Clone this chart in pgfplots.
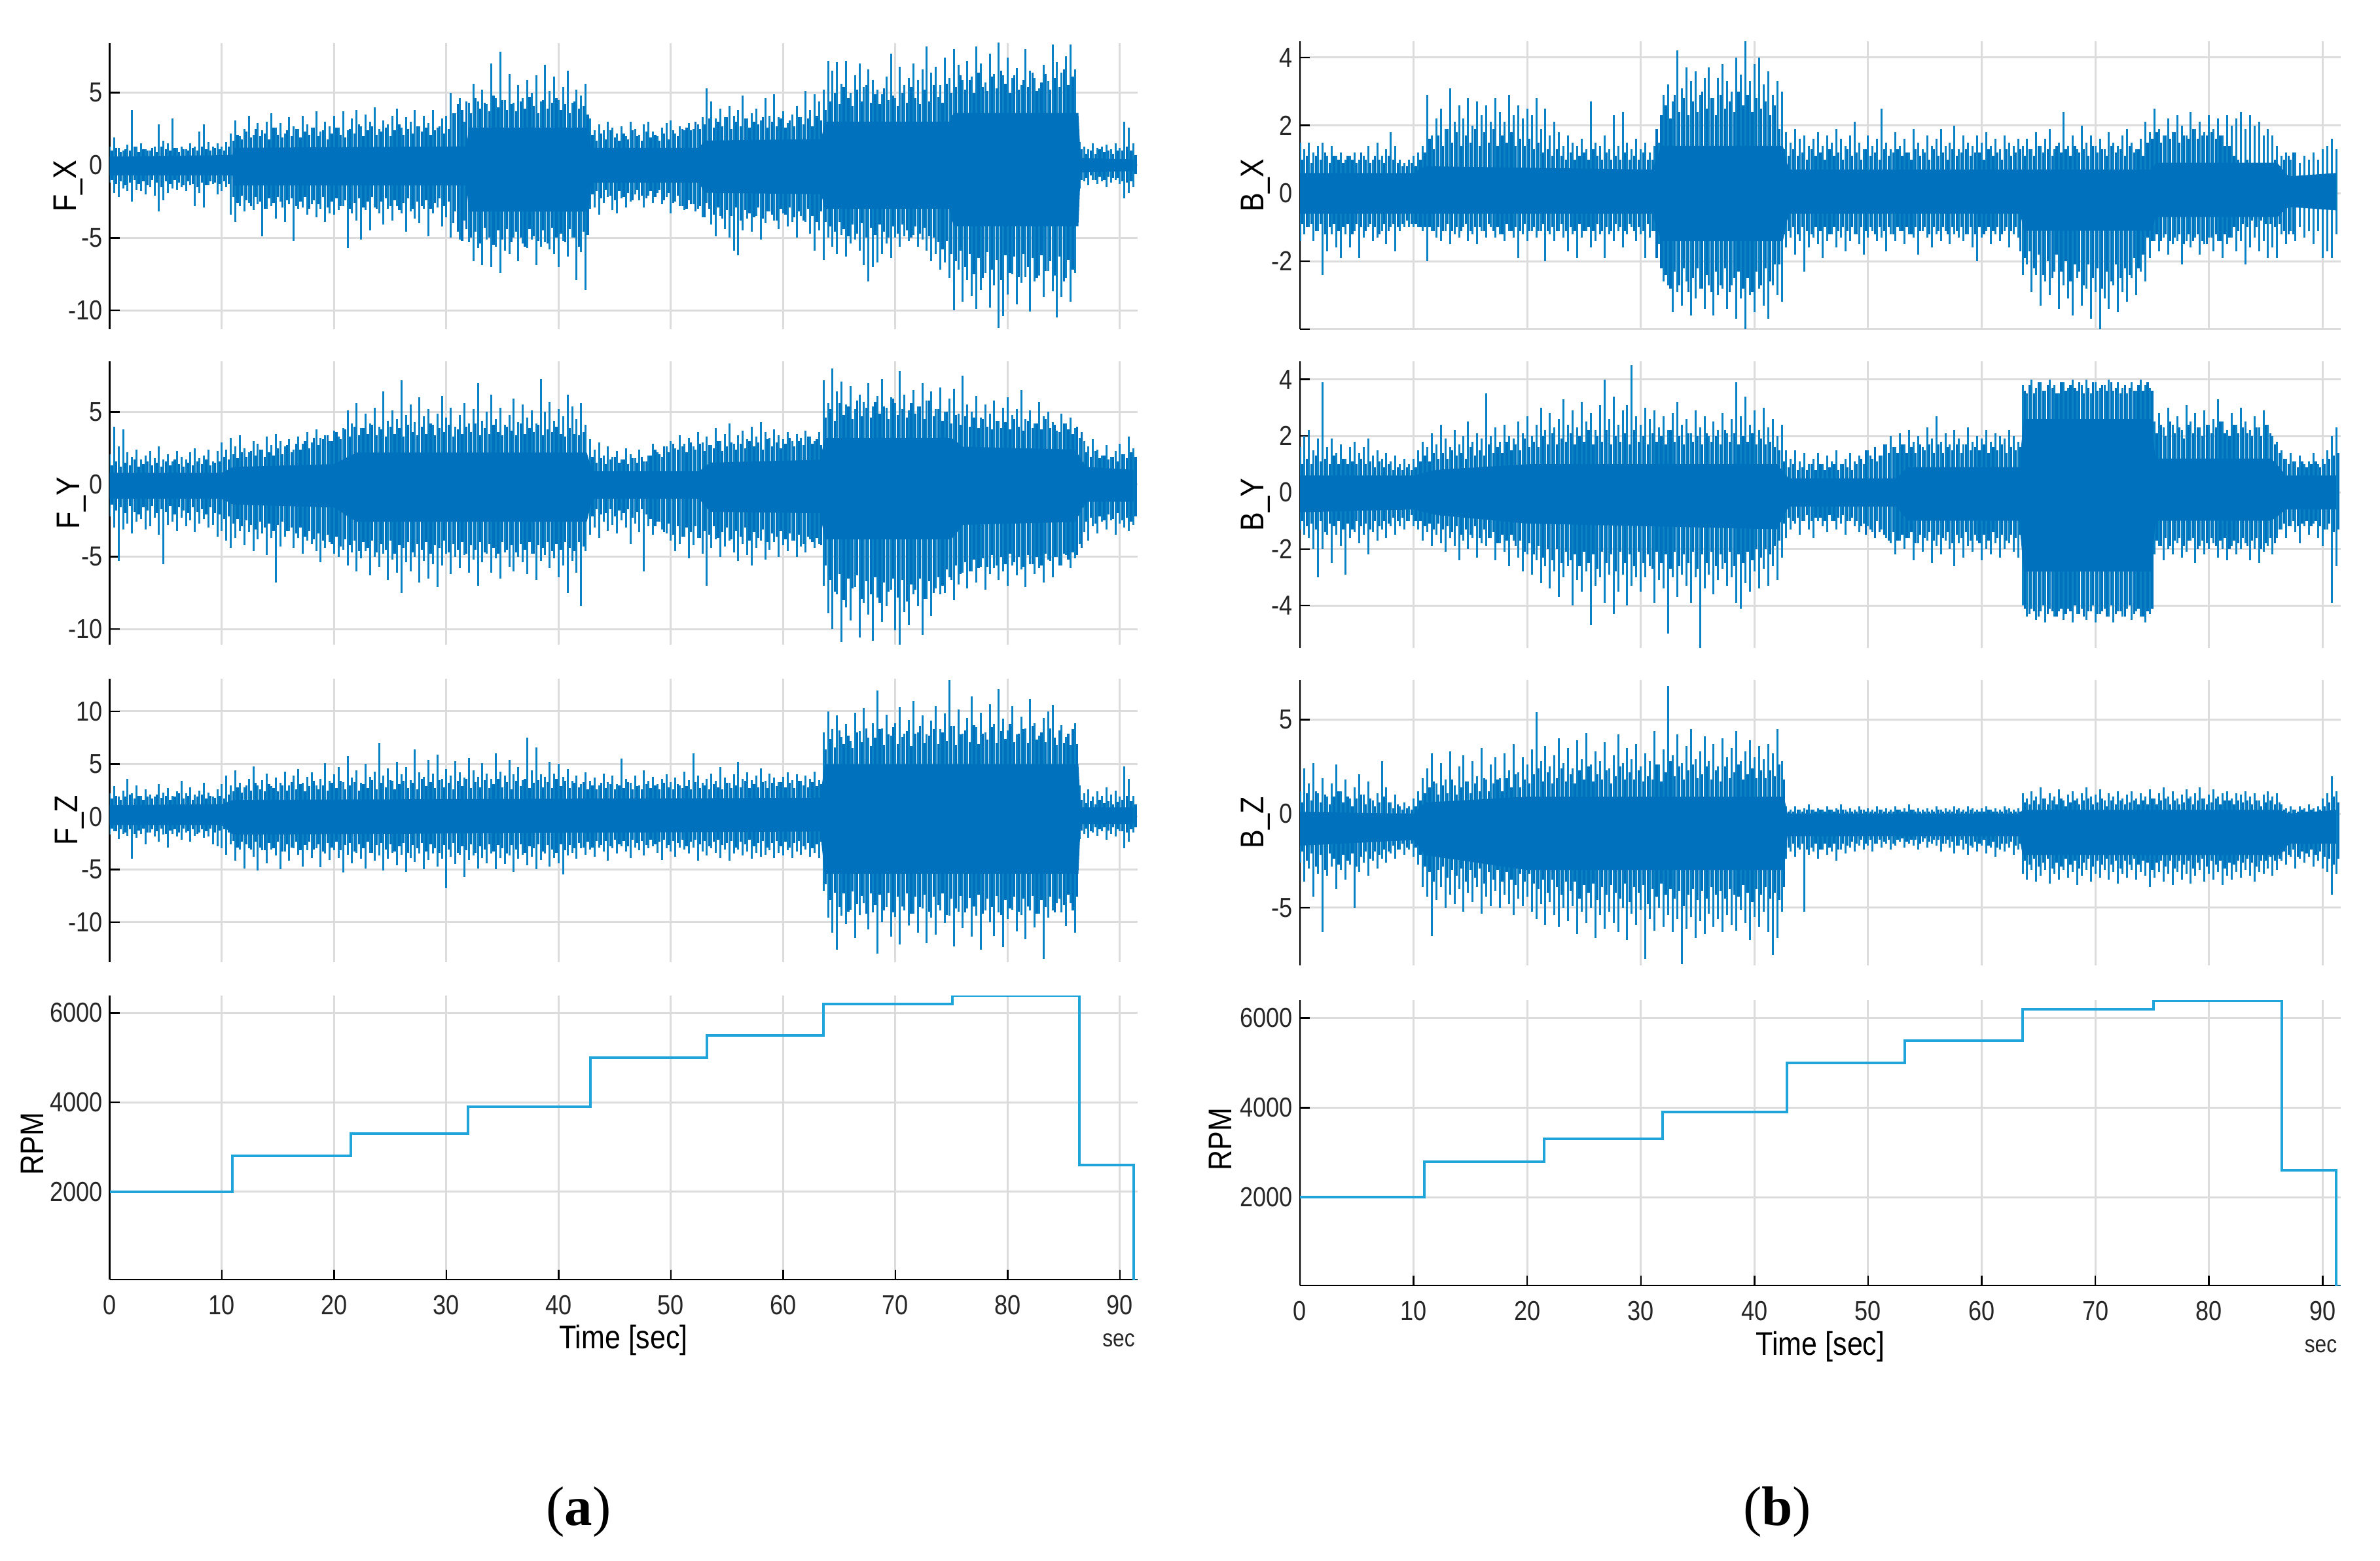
\documentclass[border=0pt]{standalone}
\usepackage{pgfplots}
\usepackage{pgfplotstable}
\usepackage{fontspec}
\setmainfont[FakeStretch=0.86]{Liberation Sans}
\newfontfamily\capfont{Liberation Serif}
\pgfplotsset{compat=1.18}
\definecolor{core}{HTML}{0072BD}
\definecolor{spk}{HTML}{0A82C4}
\definecolor{rpm}{HTML}{1FA5DA}
\definecolor{grd}{HTML}{DCDCDC}
\definecolor{txt}{HTML}{262626}
\pgfplotstableread[header=false,row sep=\\]{
1.3 -1.2\\ 1.9 -1.9\\ 1.2 -2.2\\ 1.0 -1.6\\ 1.4 -1.8\\ 3.8 -2.5\\ 1.3 -1.7\\ 1.5 -1.8\\ 1.1 -2.0\\ 1.0 -1.5\\
1.3 -2.1\\ 2.8 -3.2\\ 1.7 -2.4\\ 1.5 -1.9\\ 3.2 -1.6\\ 1.2 -1.7\\ 1.3 -1.5\\ 1.1 -1.8\\ 1.5 -1.4\\ 1.3 -2.8\\
2.3 -1.9\\ 2.8 -2.9\\ 1.6 -1.4\\ 1.3 -1.3\\ 1.5 -2.0\\ 1.3 -1.8\\ 1.6 -1.5\\ 2.2 -3.4\\ 3.1 -3.9\\ 2.0 -2.8\\
2.5 -3.2\\ 3.4 -2.6\\ 2.1 -3.1\\ 2.9 -2.7\\ 2.4 -4.9\\ 3.0 -3.0\\ 3.6 -2.8\\ 2.6 -3.7\\ 2.9 -2.5\\ 2.2 -3.9\\
3.3 -2.7\\ 2.7 -5.2\\ 2.5 -3.0\\ 3.4 -2.9\\ 2.8 -3.4\\ 2.6 -2.7\\ 3.7 -3.6\\ 2.3 -3.0\\ 3.0 -3.9\\ 2.7 -3.3\\
3.4 -3.4\\ 2.6 -3.1\\ 3.7 -2.8\\ 2.4 -5.7\\ 3.2 -3.3\\ 3.8 -3.8\\ 2.7 -5.1\\ 3.5 -3.1\\ 3.0 -4.5\\ 4.0 -2.9\\
2.5 -3.3\\ 3.1 -4.1\\ 2.8 -3.0\\ 3.4 -3.8\\ 3.9 -2.8\\ 2.6 -3.3\\ 3.3 -4.6\\ 3.0 -3.2\\ 3.8 -3.7\\ 2.7 -4.0\\
3.4 -3.0\\ 2.9 -4.9\\ 3.8 -3.3\\ 2.6 -2.9\\ 3.2 -4.2\\ 3.4 -3.6\\ 5.0 -5.0\\ 3.6 -3.2\\ 4.6 -5.1\\ 3.0 -3.8\\
4.3 -5.3\\ 5.6 -6.6\\ 4.4 -5.7\\ 5.2 -6.9\\ 4.2 -5.1\\ 7.0 -7.0\\ 4.6 -5.6\\ 7.8 -7.4\\ 4.5 -5.9\\ 6.3 -6.1\\
4.3 -5.0\\ 5.5 -6.6\\ 4.6 -5.4\\ 5.9 -5.7\\ 5.0 -5.1\\ 6.2 -6.9\\ 4.4 -5.6\\ 6.9 -5.3\\ 5.1 -5.8\\ 6.1 -6.1\\
4.5 -7.0\\ 5.4 -5.2\\ 6.5 -6.3\\ 4.3 -5.0\\ 5.2 -7.9\\ 4.8 -6.0\\ 5.6 -8.6\\ 3.2 -3.0\\ 2.4 -2.9\\ 2.8 -3.4\\
2.4 -2.6\\ 3.0 -2.2\\ 2.6 -3.1\\ 2.2 -3.3\\ 2.7 -2.3\\ 2.0 -2.9\\ 3.0 -2.5\\ 2.5 -2.0\\ 2.1 -2.4\\ 2.8 -2.9\\
3.0 -2.1\\ 2.3 -2.6\\ 2.0 -1.9\\ 2.6 -2.7\\ 2.9 -2.2\\ 3.1 -3.3\\ 2.2 -2.5\\ 2.7 -2.8\\ 2.4 -3.1\\ 2.9 -2.4\\
2.5 -2.7\\ 2.8 -3.0\\ 3.3 -3.6\\ 5.3 -2.6\\ 4.4 -4.1\\ 3.2 -4.9\\ 3.9 -3.5\\ 3.3 -4.4\\ 4.1 -5.0\\ 3.4 -5.9\\
3.8 -6.2\\ 4.8 -4.5\\ 3.2 -3.7\\ 3.6 -4.6\\ 3.9 -3.5\\ 3.1 -5.1\\ 4.6 -4.0\\ 3.4 -3.2\\ 4.9 -3.8\\ 3.3 -4.4\\
3.7 -3.3\\ 2.9 -4.2\\ 3.5 -3.9\\ 4.1 -5.0\\ 3.3 -3.5\\ 5.1 -3.9\\ 3.8 -4.7\\ 4.9 -5.9\\ 4.4 -4.5\\ 5.2 -6.5\\
7.2 -5.0\\ 6.5 -5.6\\ 7.1 -6.1\\ 5.6 -4.8\\ 7.2 -6.3\\ 5.0 -5.4\\ 6.2 -5.1\\ 7.0 -5.9\\ 5.4 -6.9\\ 6.6 -8.0\\
5.9 -7.0\\ 5.2 -6.7\\ 4.9 -6.1\\ 6.1 -5.4\\ 7.7 -6.4\\ 4.6 -5.0\\ 6.8 -5.6\\ 5.5 -4.9\\ 6.0 -5.2\\ 7.0 -4.8\\
5.9 -5.6\\ 6.6 -5.1\\ 8.2 -5.9\\ 6.4 -6.6\\ 6.8 -6.1\\ 5.5 -7.2\\ 7.4 -6.7\\ 6.0 -7.8\\ 8.0 -10.0\\ 6.9 -7.2\\
5.9 -9.4\\ 7.2 -7.9\\ 6.1 -9.0\\ 8.2 -9.9\\ 7.0 -8.6\\ 5.7 -7.4\\ 7.7 -9.8\\ 6.3 -8.3\\ 8.5 -11.2\\ 6.2 -10.4\\
7.4 -8.9\\ 6.0 -7.5\\ 6.7 -9.6\\ 5.5 -8.1\\ 8.0 -7.7\\ 6.5 -10.1\\ 6.0 -8.0\\ 5.3 -7.6\\ 6.9 -9.1\\ 5.8 -7.3\\
8.3 -8.7\\ 7.1 -10.5\\ 6.4 -9.1\\ 7.5 -7.8\\ 8.3 -9.4\\ 6.6 -7.4\\ 1.6 -1.6\\ 1.3 -1.1\\ 1.1 -1.4\\ 1.5 -1.0\\
1.2 -1.3\\ 1.3 -1.1\\ 1.4 -1.5\\ 1.1 -1.2\\ 1.5 -1.0\\ 1.2 -1.3\\ 3.0 -2.3\\ 2.6 -1.9\\ 1.5 -1.5\\
}\tFX
\pgfplotstableread[header=false,row sep=\\]{
1.0 -1.0\\ 1.2 -1.3\\ 0.9 -1.1\\ 1.1 -1.4\\ 1.0 -1.2\\ 1.3 -1.0\\ 0.9 -1.3\\ 1.1 -1.1\\ 1.0 -1.4\\ 1.2 -1.0\\
0.9 -1.2\\ 1.3 -1.5\\ 1.1 -1.1\\ 1.0 -1.3\\ 1.2 -1.0\\ 0.9 -1.2\\ 1.1 -1.4\\ 1.0 -1.1\\ 1.2 -1.3\\ 1.0 -1.5\\
1.3 -1.2\\ 1.1 -1.4\\ 1.0 -1.1\\ 1.2 -1.2\\ 1.1 -1.3\\ 1.0 -1.1\\ 1.3 -1.3\\ 1.7 -2.2\\ 2.1 -2.6\\ 1.8 -2.1\\
2.3 -2.4\\ 1.9 -2.8\\ 2.5 -2.2\\ 2.0 -2.5\\ 2.2 -3.0\\ 1.8 -2.3\\ 2.6 -2.6\\ 2.1 -2.2\\ 1.9 -2.9\\ 2.4 -2.4\\
2.0 -2.3\\ 2.5 -2.8\\ 1.9 -2.5\\ 2.3 -2.2\\ 2.1 -3.0\\ 2.6 -2.4\\ 2.0 -2.7\\ 2.4 -2.2\\ 1.8 -2.9\\ 2.2 -2.5\\
2.6 -2.3\\ 2.1 -2.8\\ 1.9 -2.4\\ 2.5 -3.0\\ 2.2 -2.6\\ 2.8 -2.3\\ 2.0 -2.9\\ 2.4 -2.5\\ 2.7 -2.2\\ 2.1 -3.0\\
2.3 -2.5\\ 2.6 -2.3\\ 2.0 -2.8\\ 2.4 -2.4\\ 2.8 -3.1\\ 2.1 -2.6\\ 2.5 -2.3\\ 2.2 -3.0\\ 2.7 -2.5\\ 2.3 -2.8\\
2.6 -2.4\\ 2.1 -3.0\\ 2.4 -2.6\\ 2.7 -2.3\\ 2.2 -2.8\\ 2.5 -2.5\\ 3.6 -4.0\\ 4.2 -4.6\\ 3.8 -5.2\\ 4.4 -4.4\\
3.6 -5.0\\ 4.6 -4.6\\ 3.9 -5.4\\ 4.3 -4.3\\ 3.7 -5.0\\ 4.8 -5.5\\ 4.0 -4.5\\ 4.5 -5.1\\ 3.8 -4.4\\ 4.2 -5.3\\
3.7 -4.6\\ 4.4 -5.0\\ 3.9 -5.6\\ 4.7 -4.4\\ 4.1 -4.9\\ 3.6 -5.2\\ 4.5 -4.5\\ 3.9 -5.4\\ 4.3 -4.3\\ 4.6 -5.0\\
3.8 -4.7\\ 4.2 -5.3\\ 3.6 -4.4\\ 4.4 -5.0\\ 3.9 -5.6\\ 4.1 -4.6\\ 3.5 -4.8\\ 2.1 -2.0\\ 1.7 -1.8\\ 2.2 -2.3\\
1.8 -1.7\\ 2.4 -2.1\\ 1.9 -2.4\\ 1.7 -1.8\\ 2.2 -2.2\\ 1.8 -1.9\\ 2.4 -2.4\\ 2.0 -1.7\\ 1.7 -2.1\\ 2.3 -2.3\\
1.9 -1.8\\ 2.1 -2.2\\ 1.7 -1.7\\ 2.2 -2.4\\ 1.8 -1.9\\ 2.4 -2.6\\ 2.0 -2.1\\ 2.5 -2.8\\ 2.6 -3.0\\ 2.4 -2.7\\
3.0 -3.2\\ 2.5 -2.8\\ 2.8 -3.6\\ 3.2 -3.0\\ 2.6 -3.4\\ 3.0 -2.9\\ 2.7 -3.7\\ 3.3 -3.1\\ 2.5 -3.5\\ 3.0 -2.9\\
2.7 -3.8\\ 3.2 -3.1\\ 2.6 -3.3\\ 3.0 -3.6\\ 2.8 -2.9\\ 3.3 -3.7\\ 2.6 -3.2\\ 3.0 -3.4\\ 2.7 -3.8\\ 3.2 -3.0\\
2.6 -3.4\\ 3.1 -2.9\\ 2.7 -3.6\\ 3.3 -3.2\\ 2.8 -3.8\\ 3.2 -3.0\\ 2.7 -3.5\\ 3.4 -3.9\\ 3.1 -3.2\\ 3.8 -3.9\\
4.4 -4.2\\ 5.0 -4.6\\ 4.2 -3.9\\ 5.4 -4.4\\ 4.6 -4.9\\ 4.1 -4.1\\ 5.2 -4.7\\ 4.4 -4.0\\ 5.5 -5.0\\ 4.3 -4.3\\
4.9 -4.8\\ 4.2 -4.1\\ 5.3 -4.6\\ 4.5 -5.0\\ 4.8 -4.2\\ 4.1 -4.7\\ 5.0 -4.1\\ 4.3 -4.5\\ 5.4 -5.0\\ 4.6 -4.2\\
4.2 -4.7\\ 5.2 -4.3\\ 4.4 -4.9\\ 5.5 -5.0\\ 4.7 -5.3\\ 4.3 -5.8\\ 5.6 -5.2\\ 5.0 -6.1\\ 5.4 -6.6\\ 6.2 -5.9\\
5.2 -7.0\\ 5.9 -6.1\\ 5.0 -7.5\\ 6.4 -6.4\\ 5.4 -7.8\\ 5.1 -6.0\\ 6.1 -7.2\\ 5.3 -6.5\\ 6.5 -7.9\\ 5.6 -6.2\\
5.0 -7.4\\ 6.2 -6.3\\ 5.2 -7.7\\ 5.9 -6.1\\ 5.4 -7.0\\ 6.4 -6.4\\ 5.1 -7.8\\ 5.7 -6.2\\ 6.3 -7.3\\ 5.2 -6.6\\
6.0 -7.6\\ 5.4 -6.3\\ 6.6 -8.0\\ 5.5 -6.5\\ 6.1 -7.2\\ 0.9 -0.8\\ 1.1 -1.0\\ 0.8 -0.9\\ 1.0 -0.7\\ 0.8 -1.0\\
1.1 -0.8\\ 0.9 -1.0\\ 1.0 -0.8\\ 0.8 -0.9\\ 1.0 -0.9\\ 1.0 -1.1\\ 1.3 -1.2\\ 1.0 -1.1\\ 0.7 -0.6\\
}\mFX
\pgfplotstableread[header=false,row sep=\\]{
2.1 -2.2\\ 4.0 -3.0\\ 2.6 -5.3\\ 3.8 -3.1\\ 2.2 -2.7\\ 1.9 -3.4\\ 2.4 -2.6\\ 1.7 -2.4\\ 2.0 -3.1\\ 2.3 -2.9\\
1.8 -2.3\\ 2.6 -3.5\\ 1.7 -5.5\\ 2.1 -2.8\\ 1.6 -2.6\\ 2.3 -3.2\\ 1.9 -2.3\\ 1.7 -2.9\\ 2.2 -2.5\\ 2.5 -3.3\\
1.8 -2.7\\ 2.0 -2.4\\ 2.4 -3.0\\ 1.6 -2.8\\ 2.3 -3.6\\ 2.9 -3.2\\ 2.4 -3.9\\ 3.2 -4.4\\ 2.6 -3.7\\ 3.4 -3.2\\
2.5 -4.2\\ 2.2 -3.3\\ 3.0 -4.6\\ 2.8 -3.8\\ 2.4 -3.4\\ 3.3 -4.9\\ 2.7 -3.7\\ 3.5 -6.8\\ 3.0 -4.3\\ 2.6 -3.6\\
3.1 -3.2\\ 2.4 -4.4\\ 3.3 -3.7\\ 2.8 -4.8\\ 3.6 -3.9\\ 2.9 -4.1\\ 3.8 -4.6\\ 3.2 -5.4\\ 3.4 -4.4\\ 3.0 -4.0\\
3.7 -4.8\\ 3.3 -5.0\\ 3.9 -4.5\\ 5.1 -5.6\\ 4.2 -4.7\\ 5.6 -6.0\\ 3.9 -5.1\\ 4.9 -4.6\\ 4.2 -6.3\\ 5.3 -5.0\\
4.0 -5.7\\ 6.4 -4.8\\ 4.4 -6.6\\ 5.1 -5.2\\ 4.5 -6.1\\ 7.2 -7.5\\ 4.8 -5.4\\ 5.5 -6.0\\ 4.3 -5.0\\ 6.0 -6.8\\
4.7 -5.3\\ 5.2 -6.5\\ 4.1 -5.5\\ 4.9 -7.1\\ 6.1 -5.6\\ 4.6 -4.8\\ 5.3 -6.2\\ 4.0 -5.0\\ 4.8 -5.8\\ 5.6 -4.9\\
4.2 -6.1\\ 5.2 -5.2\\ 7.0 -7.0\\ 4.4 -5.4\\ 5.0 -4.8\\ 6.2 -6.1\\ 4.5 -5.1\\ 5.3 -6.5\\ 4.1 -4.7\\ 4.8 -5.7\\
5.9 -6.0\\ 4.3 -5.0\\ 5.5 -5.4\\ 4.6 -6.2\\ 5.1 -4.8\\ 4.2 -6.6\\ 7.3 -5.3\\ 5.0 -4.9\\ 5.7 -5.8\\ 4.4 -5.1\\
5.2 -6.4\\ 4.7 -5.6\\ 6.2 -7.5\\ 5.4 -5.3\\ 4.5 -6.1\\ 5.6 -8.4\\ 4.1 -4.6\\ 3.1 -3.5\\ 2.4 -3.0\\ 2.9 -3.7\\
2.0 -2.6\\ 2.6 -3.2\\ 1.9 -2.8\\ 2.3 -3.4\\ 1.7 -2.5\\ 2.5 -3.0\\ 2.1 -4.1\\ 1.8 -2.7\\ 2.4 -3.3\\ 1.6 -6.0\\
2.0 -2.9\\ 2.8 -3.5\\ 2.2 -2.6\\ 1.9 -3.1\\ 2.6 -3.4\\ 3.0 -3.9\\ 2.5 -4.6\\ 3.4 -4.1\\ 2.8 -3.6\\ 3.2 -5.1\\
2.6 -4.2\\ 3.6 -3.7\\ 2.9 -4.8\\ 3.3 -7.0\\ 2.7 -4.4\\ 3.9 -3.8\\ 3.0 -5.0\\ 3.5 -4.3\\ 4.2 -3.9\\ 2.8 -4.7\\
3.4 -5.3\\ 3.7 -4.1\\ 3.1 -4.9\\ 4.0 -5.6\\ 3.3 -4.4\\ 4.3 -3.9\\ 3.6 -5.2\\ 3.2 -4.5\\ 3.8 -4.0\\ 3.4 -5.0\\
3.1 -4.2\\ 3.6 -4.6\\ 3.0 -3.9\\ 3.5 -5.0\\ 3.2 -4.3\\ 3.7 -4.7\\ 3.3 -3.8\\ 3.0 -4.4\\ 3.6 -4.1\\ 7.2 -7.0\\
5.6 -8.9\\ 8.0 -10.0\\ 6.4 -7.6\\ 7.1 -10.9\\ 5.5 -8.5\\ 6.8 -9.4\\ 5.2 -7.1\\ 6.2 -10.6\\ 5.7 -8.2\\ 7.0 -9.0\\
5.4 -10.8\\ 6.1 -7.8\\ 7.3 -9.5\\ 5.3 -8.4\\ 6.0 -7.3\\ 5.6 -10.1\\ 7.8 -11.1\\ 6.2 -8.8\\ 5.1 -9.7\\ 6.5 -7.6\\
5.4 -8.4\\ 7.0 -10.4\\ 5.8 -7.9\\ 6.4 -9.1\\ 5.2 -7.2\\ 6.7 -7.6\\ 5.0 -7.5\\ 5.9 -6.4\\ 6.6 -8.0\\ 4.9 -6.9\\
7.5 -6.1\\ 5.5 -7.2\\ 5.0 -6.0\\ 6.1 -6.8\\ 4.6 -5.7\\ 5.5 -7.3\\ 4.9 -6.2\\ 5.8 -5.8\\ 4.4 -6.6\\ 5.3 -6.0\\
6.0 -7.0\\ 4.8 -5.6\\ 5.2 -6.3\\ 6.5 -5.9\\ 4.5 -7.1\\ 5.1 -5.5\\ 4.2 -6.2\\ 5.7 -5.8\\ 4.7 -6.8\\ 5.0 -5.2\\
4.3 -6.4\\ 3.7 -5.0\\ 4.9 -5.6\\ 4.2 -4.9\\ 4.6 -5.8\\ 3.9 -5.1\\ 3.2 -4.1\\ 3.0 -3.3\\ 2.6 -3.9\\ 3.1 -2.9\\
2.4 -3.4\\ 2.0 -2.6\\ 2.7 -3.1\\ 1.9 -2.5\\ 2.3 -3.5\\ 2.8 -2.7\\ 2.1 -3.0\\ 3.3 -3.2\\ 2.5 -2.8\\
}\tFY
\pgfplotstableread[header=false,row sep=\\]{
1.3 -1.4\\ 1.6 -1.8\\ 1.2 -1.6\\ 1.5 -2.0\\ 1.3 -1.5\\ 1.7 -1.9\\ 1.2 -2.1\\ 1.4 -1.6\\ 1.6 -1.8\\ 1.3 -1.5\\
1.5 -2.0\\ 1.2 -1.7\\ 1.6 -1.9\\ 1.3 -1.5\\ 1.7 -2.1\\ 1.4 -1.6\\ 1.2 -1.8\\ 1.5 -2.0\\ 1.3 -1.6\\ 1.6 -1.9\\
1.4 -1.7\\ 1.7 -2.1\\ 1.3 -1.6\\ 1.5 -2.0\\ 1.6 -2.1\\ 1.9 -2.4\\ 1.7 -2.2\\ 2.1 -2.7\\ 1.8 -2.4\\ 2.2 -2.9\\
1.9 -2.5\\ 2.3 -2.8\\ 2.0 -3.1\\ 2.4 -2.6\\ 1.9 -3.0\\ 2.2 -2.7\\ 2.0 -3.2\\ 2.5 -2.8\\ 2.1 -2.6\\ 2.7 -3.2\\
2.2 -3.0\\ 2.8 -3.4\\ 2.4 -3.0\\ 3.0 -3.6\\ 2.5 -3.2\\ 3.2 -3.8\\ 2.7 -3.4\\ 3.1 -3.9\\ 3.4 -3.5\\ 3.0 -4.1\\
3.6 -3.6\\ 3.1 -4.3\\ 3.8 -3.8\\ 3.3 -4.2\\ 4.0 -3.9\\ 3.4 -4.6\\ 3.9 -4.0\\ 3.5 -4.4\\ 4.1 -3.9\\ 3.4 -4.7\\
3.8 -4.1\\ 3.3 -4.5\\ 4.0 -3.9\\ 3.5 -4.8\\ 3.9 -4.2\\ 3.3 -4.4\\ 4.1 -4.0\\ 3.6 -4.7\\ 3.4 -4.1\\ 4.0 -4.5\\
3.5 -4.0\\ 4.2 -4.8\\ 3.4 -4.2\\ 3.9 -4.4\\ 3.6 -3.9\\ 4.1 -4.7\\ 3.3 -4.1\\ 3.8 -4.5\\ 3.5 -4.0\\ 4.0 -4.8\\
3.6 -4.2\\ 4.2 -4.5\\ 3.4 -4.0\\ 3.9 -4.7\\ 3.5 -4.1\\ 4.1 -4.4\\ 3.6 -4.8\\ 3.4 -4.0\\ 4.0 -4.5\\ 3.7 -4.2\\
3.4 -4.7\\ 4.2 -4.1\\ 3.5 -4.5\\ 3.9 -4.0\\ 3.6 -4.8\\ 4.1 -4.2\\ 3.4 -4.4\\ 3.8 -4.0\\ 3.6 -4.6\\ 4.0 -4.1\\
3.5 -4.5\\ 3.3 -4.0\\ 3.9 -4.4\\ 3.5 -4.6\\ 3.4 -4.0\\ 3.6 -4.3\\ 1.6 -1.9\\ 1.9 -2.2\\ 1.5 -1.7\\ 1.8 -2.1\\
1.4 -2.0\\ 1.7 -1.7\\ 1.9 -2.2\\ 1.5 -1.8\\ 1.7 -2.0\\ 1.4 -1.7\\ 1.8 -2.3\\ 1.5 -1.9\\ 1.9 -1.7\\ 1.6 -2.1\\
2.0 -2.4\\ 2.4 -2.9\\ 2.1 -2.6\\ 2.6 -3.3\\ 2.2 -2.7\\ 2.8 -3.5\\ 2.4 -2.9\\ 2.6 -3.6\\ 2.2 -3.0\\ 2.9 -3.3\\
2.4 -2.9\\ 2.8 -3.7\\ 2.3 -3.2\\ 2.7 -3.5\\ 2.5 -2.9\\ 3.0 -3.7\\ 2.3 -3.3\\ 2.6 -3.0\\ 2.9 -3.8\\ 2.4 -3.2\\
2.8 -3.6\\ 2.5 -3.0\\ 3.0 -3.9\\ 2.6 -3.3\\ 2.9 -3.7\\ 2.4 -3.1\\ 3.1 -4.0\\ 2.6 -3.4\\ 2.9 -3.6\\ 2.5 -3.2\\
2.8 -3.8\\ 3.2 -3.4\\ 2.6 -3.9\\ 3.0 -3.5\\ 2.7 -4.1\\ 3.3 -3.6\\ 2.8 -4.0\\ 3.1 -3.7\\ 2.7 -4.2\\ 4.6 -5.6\\
5.2 -6.6\\ 4.4 -7.4\\ 5.6 -6.2\\ 4.8 -8.0\\ 5.4 -6.5\\ 4.5 -7.2\\ 5.8 -6.3\\ 4.7 -7.9\\ 5.3 -6.7\\ 4.6 -7.6\\
5.7 -6.4\\ 4.9 -8.2\\ 5.4 -6.8\\ 4.5 -7.4\\ 5.9 -6.5\\ 4.8 -7.8\\ 5.2 -6.6\\ 4.6 -8.1\\ 5.6 -6.9\\ 4.9 -7.3\\
5.4 -6.5\\ 4.5 -7.9\\ 5.8 -6.7\\ 4.7 -7.5\\ 5.2 -6.4\\ 4.4 -7.0\\ 5.0 -5.9\\ 4.2 -6.6\\ 4.8 -5.6\\ 4.1 -6.2\\
4.7 -5.4\\ 4.0 -6.0\\ 4.6 -5.2\\ 3.9 -5.8\\ 4.5 -5.1\\ 4.0 -5.7\\ 3.8 -4.9\\ 4.4 -5.6\\ 3.9 -5.0\\ 4.3 -5.5\\
3.8 -4.8\\ 4.5 -5.4\\ 4.0 -5.0\\ 3.7 -5.7\\ 4.4 -4.9\\ 3.9 -5.5\\ 4.2 -5.0\\ 3.8 -5.6\\ 4.5 -4.8\\ 3.9 -5.3\\
4.1 -5.0\\ 3.6 -5.6\\ 4.2 -4.8\\ 3.8 -5.2\\ 3.5 -4.7\\ 4.0 -4.9\\ 3.6 -4.4\\ 2.2 -2.6\\ 1.9 -2.3\\ 2.3 -2.7\\
1.8 -2.2\\ 2.0 -2.5\\ 1.7 -2.1\\ 1.9 -2.4\\ 1.6 -2.0\\ 2.1 -2.5\\ 1.8 -2.3\\ 2.2 -2.6\\ 1.9 -2.2\\
}\mFY
\pgfplotstableread[header=false,row sep=\\]{
2.2 -1.7\\ 2.9 -1.4\\ 1.9 -2.1\\ 2.5 -1.6\\ 3.6 -1.8\\ 2.2 -4.0\\ 3.0 -2.0\\ 2.0 -1.6\\ 2.6 -2.6\\ 2.1 -1.5\\
1.9 -1.9\\ 3.1 -2.4\\ 2.3 -1.7\\ 2.7 -2.9\\ 2.0 -1.6\\ 2.4 -1.9\\ 3.4 -2.2\\ 2.2 -1.5\\ 2.8 -2.4\\ 2.1 -1.8\\
2.5 -1.5\\ 3.2 -2.0\\ 2.3 -1.9\\ 1.9 -2.6\\ 2.6 -2.8\\ 3.1 -3.0\\ 3.9 -3.6\\ 3.0 -2.6\\ 4.4 -4.2\\ 3.2 -3.1\\
2.8 -4.9\\ 3.6 -3.0\\ 4.8 -3.8\\ 3.0 -5.1\\ 3.5 -3.2\\ 4.1 -4.4\\ 2.9 -3.1\\ 3.7 -3.7\\ 3.2 -5.0\\ 4.3 -3.3\\
3.0 -4.2\\ 3.9 -3.0\\ 4.5 -3.6\\ 3.2 -4.7\\ 3.8 -3.2\\ 4.2 -3.9\\ 3.0 -3.0\\ 3.6 -4.8\\ 5.1 -3.5\\ 3.4 -4.1\\
4.0 -3.2\\ 4.7 -3.9\\ 3.3 -5.3\\ 5.8 -3.6\\ 3.7 -4.4\\ 4.4 -3.4\\ 3.2 -4.0\\ 5.0 -4.9\\ 3.8 -3.4\\ 4.3 -4.2\\
7.0 -3.7\\ 3.9 -5.1\\ 4.6 -4.0\\ 3.4 -3.4\\ 5.2 -4.6\\ 4.0 -3.6\\ 4.7 -5.2\\ 3.5 -3.9\\ 6.4 -4.3\\ 4.2 -3.5\\
3.8 -5.0\\ 5.4 -4.1\\ 4.1 -3.5\\ 5.9 -4.7\\ 3.6 -4.0\\ 4.5 -6.8\\ 3.9 -3.8\\ 5.3 -4.5\\ 4.2 -3.6\\ 3.7 -5.7\\
5.6 -4.1\\ 4.4 -3.7\\ 3.8 -4.9\\ 5.1 -3.9\\ 4.1 -4.4\\ 3.6 -3.5\\ 6.0 -5.0\\ 4.3 -3.9\\ 3.9 -4.5\\ 5.4 -3.7\\
4.0 -5.2\\ 4.7 -4.0\\ 3.5 -3.6\\ 7.5 -4.6\\ 4.4 -3.8\\ 6.6 -5.0\\ 4.0 -4.1\\ 3.8 -3.5\\ 5.2 -4.7\\ 4.1 -3.9\\
5.0 -4.4\\ 3.8 -5.5\\ 4.5 -3.7\\ 3.4 -3.4\\ 3.9 -4.0\\ 3.1 -3.0\\ 4.2 -3.6\\ 3.4 -3.1\\ 3.7 -3.8\\ 3.0 -2.9\\
4.1 -3.3\\ 3.3 -4.2\\ 3.9 -3.0\\ 3.1 -3.5\\ 5.5 -2.8\\ 3.6 -3.3\\ 3.2 -3.9\\ 3.9 -2.9\\ 3.0 -3.2\\ 4.4 -3.7\\
3.4 -3.0\\ 3.8 -2.8\\ 3.1 -3.4\\ 3.6 -4.1\\ 4.0 -3.0\\ 3.3 -3.3\\ 3.7 -3.8\\ 3.0 -2.9\\ 4.3 -3.1\\ 3.5 -3.5\\
6.0 -2.9\\ 3.9 -4.2\\ 3.2 -3.3\\ 3.6 -3.7\\ 4.1 -3.0\\ 3.4 -3.4\\ 4.7 -3.9\\ 3.7 -3.1\\ 3.2 -4.2\\ 4.0 -3.5\\
5.2 -3.1\\ 3.6 -3.7\\ 4.2 -3.3\\ 3.5 -4.0\\ 3.9 -3.4\\ 4.6 -3.8\\ 3.4 -3.6\\ 4.1 -3.2\\ 3.7 -3.9\\ 3.3 -3.4\\
3.8 -3.7\\ 4.2 -3.2\\ 3.5 -3.9\\ 4.0 -3.3\\ 3.4 -3.6\\ 3.9 -3.1\\ 3.6 -3.8\\ 4.3 -3.4\\ 3.5 -3.9\\ 8.0 -7.0\\
10.0 -9.6\\ 8.3 -11.0\\ 9.6 -12.6\\ 7.6 -9.4\\ 8.8 -10.2\\ 7.2 -8.8\\ 9.9 -11.5\\ 8.1 -9.3\\ 10.3 -8.2\\ 7.5 -10.7\\
8.9 -9.1\\ 12.0 -13.0\\ 8.4 -10.0\\ 9.7 -8.6\\ 7.7 -11.4\\ 8.9 -9.5\\ 10.4 -12.1\\ 7.9 -8.9\\ 9.2 -10.3\\ 11.0 -9.2\\
8.0 -11.0\\ 9.6 -8.7\\ 7.8 -12.0\\ 9.1 -9.6\\ 10.5 -11.2\\ 8.3 -8.9\\ 9.8 -10.1\\ 13.0 -9.4\\ 8.6 -12.3\\ 10.2 -9.0\\
7.9 -10.6\\ 9.4 -8.7\\ 11.4 -11.4\\ 8.5 -9.4\\ 9.9 -12.6\\ 8.0 -8.9\\ 10.7 -10.0\\ 8.8 -11.3\\ 12.1 -9.1\\ 9.3 -12.4\\
8.2 -9.7\\ 10.5 -8.8\\ 7.8 -10.9\\ 9.5 -9.3\\ 8.4 -11.6\\ 11.2 -8.9\\ 8.9 -10.5\\ 7.7 -9.2\\ 9.4 -13.5\\ 10.0 -9.6\\
10.6 -8.9\\ 6.8 -8.2\\ 8.7 -9.1\\ 7.6 -10.4\\ 6.8 -8.2\\ 8.9 -11.0\\ 3.0 -2.1\\ 2.2 -1.6\\ 2.6 -2.0\\ 1.9 -1.5\\
2.4 -1.8\\ 2.0 -1.4\\ 2.8 -2.2\\ 2.1 -1.6\\ 2.5 -1.9\\ 1.9 -1.4\\ 4.8 -3.0\\ 3.6 -2.4\\ 2.0 -1.5\\
}\tFZ
\pgfplotstableread[header=false,row sep=\\]{
1.7 -1.1\\ 2.0 -1.4\\ 1.6 -1.2\\ 1.9 -1.5\\ 2.1 -1.2\\ 1.7 -1.6\\ 2.0 -1.3\\ 1.6 -1.1\\ 1.9 -1.5\\ 1.7 -1.2\\
2.1 -1.4\\ 1.8 -1.1\\ 2.0 -1.6\\ 1.6 -1.3\\ 1.9 -1.2\\ 2.2 -1.5\\ 1.7 -1.1\\ 2.0 -1.4\\ 1.6 -1.2\\ 1.9 -1.6\\
2.1 -1.2\\ 1.7 -1.4\\ 2.0 -1.1\\ 1.8 -1.5\\ 2.0 -1.3\\ 1.7 -1.2\\ 2.1 -1.5\\ 2.4 -2.3\\ 2.8 -2.9\\ 2.3 -2.4\\
3.0 -2.6\\ 2.5 -3.1\\ 3.2 -2.4\\ 2.6 -2.9\\ 2.4 -3.2\\ 3.1 -2.5\\ 2.7 -3.0\\ 2.4 -2.4\\ 3.0 -3.3\\ 2.5 -2.6\\
3.3 -2.9\\ 2.6 -2.4\\ 3.1 -3.2\\ 2.4 -2.7\\ 2.9 -2.4\\ 3.4 -3.1\\ 2.6 -2.6\\ 3.0 -3.3\\ 2.5 -2.5\\ 3.2 -2.9\\
2.7 -2.4\\ 3.4 -3.2\\ 2.6 -2.7\\ 3.0 -2.5\\ 3.3 -3.3\\ 2.5 -2.6\\ 3.1 -3.0\\ 2.7 -2.4\\ 3.5 -3.4\\ 2.6 -2.7\\
3.2 -2.5\\ 2.8 -3.1\\ 3.5 -2.6\\ 2.6 -3.3\\ 3.1 -2.8\\ 3.4 -2.5\\ 2.7 -3.4\\ 3.2 -2.7\\ 2.6 -3.0\\ 3.6 -2.5\\
2.9 -3.3\\ 3.3 -2.6\\ 2.7 -3.0\\ 3.5 -3.4\\ 2.8 -2.7\\ 3.2 -3.1\\ 2.6 -2.5\\ 3.4 -3.4\\ 2.9 -2.8\\ 3.6 -3.2\\
2.7 -2.6\\ 3.3 -3.4\\ 2.8 -2.8\\ 3.5 -3.1\\ 2.7 -2.6\\ 3.1 -3.3\\ 3.6 -2.7\\ 2.8 -3.0\\ 3.3 -3.5\\ 2.6 -2.7\\
3.4 -3.1\\ 2.9 -2.6\\ 3.6 -3.4\\ 2.7 -2.8\\ 3.2 -3.0\\ 3.5 -2.6\\ 2.8 -3.3\\ 3.3 -2.7\\ 2.7 -3.1\\ 3.6 -3.4\\
2.9 -2.6\\ 3.4 -3.2\\ 2.7 -2.7\\ 3.2 -3.0\\ 2.8 -2.5\\ 3.3 -2.9\\ 2.6 -2.4\\ 3.0 -2.9\\ 2.6 -2.3\\ 3.2 -2.7\\
2.7 -2.3\\ 3.1 -2.8\\ 2.6 -2.2\\ 3.0 -2.6\\ 2.7 -2.3\\ 3.3 -2.8\\ 2.6 -2.2\\ 2.9 -2.5\\ 2.6 -2.3\\ 3.1 -2.7\\
2.7 -2.2\\ 3.0 -2.6\\ 2.6 -2.4\\ 3.2 -2.2\\ 2.8 -2.7\\ 2.6 -2.3\\ 3.1 -2.5\\ 2.7 -2.2\\ 2.9 -2.8\\ 2.6 -2.4\\
3.3 -2.2\\ 2.7 -2.6\\ 3.0 -2.3\\ 2.6 -2.8\\ 3.1 -2.4\\ 2.8 -2.2\\ 2.6 -2.7\\ 3.2 -2.5\\ 2.7 -2.3\\ 3.0 -2.9\\
2.8 -2.4\\ 3.4 -2.6\\ 2.7 -2.2\\ 3.1 -2.8\\ 2.8 -2.5\\ 3.3 -2.3\\ 2.7 -2.9\\ 3.2 -2.5\\ 2.9 -2.3\\ 3.3 -2.8\\
2.8 -2.4\\ 3.2 -2.9\\ 2.7 -2.5\\ 3.4 -2.3\\ 3.0 -2.8\\ 2.8 -2.5\\ 3.3 -3.0\\ 2.9 -2.6\\ 3.1 -2.4\\ 6.4 -6.4\\
7.4 -7.9\\ 6.6 -7.2\\ 8.2 -8.6\\ 6.9 -7.3\\ 7.7 -9.0\\ 6.5 -7.1\\ 8.0 -8.3\\ 7.1 -7.5\\ 8.4 -9.2\\ 6.7 -7.3\\
7.5 -8.4\\ 8.3 -7.4\\ 6.8 -8.9\\ 7.8 -7.2\\ 8.5 -9.1\\ 6.9 -7.6\\ 7.6 -8.5\\ 8.1 -7.3\\ 6.7 -9.2\\ 7.9 -7.6\\
8.6 -8.6\\ 7.0 -7.4\\ 7.7 -9.0\\ 8.3 -7.6\\ 6.9 -8.4\\ 8.0 -7.3\\ 7.2 -9.3\\ 8.6 -7.8\\ 6.8 -8.7\\ 7.8 -7.5\\
8.2 -9.1\\ 7.1 -7.7\\ 8.7 -8.5\\ 6.9 -7.4\\ 7.9 -9.2\\ 7.3 -7.8\\ 8.5 -8.6\\ 7.0 -7.5\\ 8.1 -9.3\\ 7.4 -7.9\\
8.8 -8.7\\ 7.1 -7.6\\ 7.9 -9.0\\ 8.3 -7.8\\ 7.0 -8.5\\ 8.6 -7.5\\ 7.3 -9.2\\ 8.0 -7.9\\ 7.1 -8.6\\ 8.4 -7.6\\
7.5 -9.1\\ 8.2 -7.8\\ 7.0 -8.4\\ 7.9 -7.4\\ 8.3 -8.9\\ 6.9 -7.6\\ 1.6 -1.3\\ 1.3 -1.1\\ 1.5 -1.4\\ 1.2 -1.0\\
1.6 -1.2\\ 1.3 -1.0\\ 1.5 -1.3\\ 1.2 -1.0\\ 1.4 -1.2\\ 1.6 -1.4\\ 2.0 -1.5\\ 1.5 -1.2\\ 1.2 -1.0\\
}\mFZ
\pgfplotstableread[header=false,row sep=\\]{
1.5 -1.4\\ 1.3 -1.2\\ 1.5 -1.0\\ 1.2 -1.4\\ 1.4 -1.1\\ 1.5 -2.4\\ 1.1 -1.7\\ 1.4 -1.2\\ 1.1 -1.6\\ 1.2 -1.9\\
1.0 -1.2\\ 1.1 -1.6\\ 1.2 -1.1\\ 1.0 -1.9\\ 1.1 -1.3\\ 1.4 -1.0\\ 1.0 -1.4\\ 1.5 -1.3\\ 1.1 -1.1\\ 1.3 -1.5\\
1.8 -1.0\\ 1.4 -1.7\\ 1.0 -1.1\\ 0.9 -1.0\\ 1.0 -1.0\\ 1.1 -1.0\\ 1.2 -1.0\\ 1.4 -1.1\\ 2.9 -2.0\\ 1.7 -1.1\\
2.2 -1.3\\ 2.5 -1.4\\ 1.9 -1.1\\ 3.1 -1.5\\ 2.1 -1.2\\ 2.6 -1.3\\ 2.2 -1.0\\ 2.8 -1.4\\ 2.0 -1.2\\ 2.7 -1.5\\
2.3 -1.1\\ 2.6 -1.3\\ 2.1 -1.0\\ 2.8 -1.3\\ 2.4 -1.2\\ 2.1 -1.4\\ 2.9 -1.1\\ 2.3 -1.3\\ 2.6 -1.9\\ 2.2 -1.2\\
2.5 -1.4\\ 2.3 -1.1\\ 2.8 -1.3\\ 1.9 -1.1\\ 2.5 -2.0\\ 1.7 -1.2\\ 2.1 -1.4\\ 1.8 -1.1\\ 1.4 -1.3\\ 1.7 -1.7\\
1.5 -1.2\\ 1.4 -1.9\\ 1.6 -1.3\\ 1.3 -1.1\\ 2.7 -1.6\\ 1.5 -1.4\\ 1.4 -1.2\\ 1.7 -1.9\\ 1.3 -1.2\\ 2.3 -1.4\\
1.4 -1.1\\ 2.4 -1.6\\ 1.5 -1.2\\ 1.3 -1.0\\ 1.6 -1.4\\ 1.3 -1.2\\ 1.5 -1.9\\ 1.2 -1.3\\ 1.4 -1.1\\ 1.5 -1.5\\
2.9 -2.6\\ 3.2 -2.7\\ 2.7 -3.5\\ 4.2 -2.9\\ 3.1 -3.3\\ 3.7 -2.6\\ 3.3 -3.6\\ 3.6 -3.1\\ 2.9 -2.8\\ 3.4 -3.4\\
3.7 -2.7\\ 2.8 -3.6\\ 3.4 -3.0\\ 3.8 -2.8\\ 3.3 -3.4\\ 3.0 -2.7\\ 4.0 -3.7\\ 3.5 -3.1\\ 4.5 -4.0\\ 3.3 -3.0\\
3.8 -3.5\\ 4.0 -2.8\\ 3.2 -3.3\\ 3.6 -3.7\\ 2.9 -2.7\\ 3.3 -3.0\\ 3.0 -3.2\\ 1.8 -1.6\\ 1.5 -1.3\\ 1.9 -1.8\\
1.6 -1.4\\ 1.7 -2.3\\ 1.4 -1.6\\ 1.6 -1.3\\ 1.8 -1.5\\ 1.4 -1.9\\ 1.7 -1.4\\ 1.5 -1.2\\ 1.9 -1.6\\ 1.6 -1.3\\
1.4 -1.7\\ 1.7 -1.4\\ 2.1 -1.2\\ 1.5 -1.5\\ 1.3 -1.8\\ 1.7 -1.3\\ 1.4 -1.1\\ 1.6 -1.4\\ 2.5 -1.3\\ 1.5 -1.7\\
1.3 -1.2\\ 1.8 -1.4\\ 1.4 -1.1\\ 1.6 -1.5\\ 1.2 -1.2\\ 1.9 -1.3\\ 1.5 -1.8\\ 1.3 -1.1\\ 1.7 -1.3\\ 1.4 -1.6\\
1.6 -1.2\\ 1.9 -1.4\\ 1.4 -1.1\\ 1.5 -1.5\\ 2.0 -1.2\\ 1.3 -1.3\\ 1.7 -1.4\\ 1.5 -1.2\\ 1.4 -1.6\\ 1.7 -2.0\\
1.5 -1.3\\ 1.8 -1.1\\ 1.4 -1.5\\ 1.6 -1.2\\ 1.3 -1.4\\ 1.7 -1.1\\ 1.5 -1.6\\ 1.4 -1.2\\ 1.6 -1.3\\
1.4 -2.4\\ 1.6 -2.1\\ 1.3 -2.9\\ 1.8 -2.4\\ 1.4 -3.3\\ 1.6 -2.6\\ 1.9 -3.0\\ 1.3 -2.3\\ 1.5 -3.4\\ 2.4 -2.7\\
1.4 -3.1\\ 1.7 -3.6\\ 1.3 -2.5\\ 2.0 -3.3\\ 1.5 -2.8\\ 1.7 -3.7\\ 1.4 -2.9\\ 1.6 -4.0\\ 1.3 -3.1\\ 1.8 -3.4\\
1.5 -2.7\\ 1.4 -3.5\\ 1.7 -2.9\\ 1.9 -3.2\\ 1.5 -2.5\\ 1.3 -3.0\\ 1.6 -2.3\\ 2.1 -2.6\\ 1.8 -1.9\\ 2.5 -1.4\\
1.9 -1.7\\ 1.7 -1.3\\ 2.2 -1.8\\ 1.8 -1.5\\ 2.3 -1.4\\ 2.0 -2.1\\ 1.7 -1.4\\ 2.4 -1.6\\ 1.9 -1.3\\ 2.1 -1.8\\
1.8 -1.5\\ 2.3 -1.3\\ 1.9 -1.7\\ 2.2 -1.4\\ 1.7 -1.9\\ 2.3 -1.5\\ 2.0 -1.3\\ 2.2 -1.7\\ 2.4 -1.4\\ 1.9 -2.1\\
2.3 -1.6\\ 2.0 -1.3\\ 2.1 -1.7\\ 1.7 -1.4\\ 1.9 -1.9\\ 1.7 -1.6\\ 1.4 -1.9\\ 1.1 -1.2\\ 1.2 -1.5\\ 1.0 -1.1\\
1.2 -1.4\\ 0.9 -1.0\\ 1.1 -1.3\\ 1.0 -1.1\\ 1.2 -1.5\\ 1.0 -1.1\\ 1.3 -1.9\\ 1.4 -1.7\\ 1.6 -1.9\\ 1.3 -1.2\\
}\tBX
\pgfplotstableread[header=false,row sep=\\]{
1.0 -0.9\\ 1.1 -1.0\\ 0.9 -0.9\\ 1.1 -1.1\\ 1.0 -0.9\\ 1.2 -1.2\\ 0.9 -1.0\\ 1.1 -0.9\\ 1.0 -1.1\\ 0.9 -1.0\\
1.1 -0.9\\ 1.0 -1.2\\ 0.9 -0.9\\ 1.2 -1.0\\ 1.0 -1.1\\ 0.9 -0.9\\ 1.1 -1.0\\ 1.0 -1.2\\ 0.9 -0.9\\ 1.1 -1.1\\
1.0 -0.9\\ 0.9 -1.0\\ 0.8 -0.9\\ 0.8 -0.8\\ 0.9 -0.9\\ 0.8 -0.9\\ 1.0 -1.0\\ 1.2 -1.0\\ 1.6 -1.0\\ 1.3 -1.1\\
1.7 -1.0\\ 1.4 -1.1\\ 1.9 -0.9\\ 1.5 -1.1\\ 1.8 -1.0\\ 1.4 -1.1\\ 1.7 -0.9\\ 1.5 -1.1\\ 1.9 -1.0\\ 1.4 -1.0\\
1.8 -1.1\\ 1.5 -0.9\\ 1.9 -1.1\\ 1.4 -1.0\\ 1.7 -1.2\\ 1.5 -0.9\\ 1.8 -1.1\\ 1.4 -1.0\\ 1.6 -1.1\\ 1.4 -0.9\\
1.6 -1.1\\ 1.3 -1.0\\ 1.5 -1.1\\ 1.2 -0.9\\ 1.3 -1.1\\ 1.1 -1.0\\ 1.3 -1.1\\ 1.1 -0.9\\ 1.0 -1.1\\ 1.2 -1.0\\
1.0 -1.1\\ 1.1 -0.9\\ 1.2 -1.1\\ 1.0 -1.0\\ 1.3 -1.1\\ 1.1 -0.9\\ 1.0 -1.1\\ 1.2 -1.0\\ 1.0 -1.1\\ 1.1 -0.9\\
1.0 -1.0\\ 1.2 -1.1\\ 1.0 -0.9\\ 1.1 -1.1\\ 1.0 -1.0\\ 1.2 -1.1\\ 1.0 -0.9\\ 1.0 -1.1\\ 1.9 -1.9\\ 2.3 -2.2\\
2.6 -2.4\\ 2.2 -2.8\\ 2.9 -2.3\\ 2.4 -2.7\\ 2.8 -2.2\\ 2.3 -2.9\\ 2.7 -2.5\\ 2.4 -2.2\\ 3.0 -2.8\\ 2.5 -2.4\\
2.8 -2.9\\ 2.3 -2.3\\ 2.9 -2.7\\ 2.5 -2.2\\ 2.7 -2.9\\ 2.4 -2.5\\ 3.0 -2.3\\ 2.6 -2.8\\ 2.9 -2.5\\ 2.4 -2.9\\
2.8 -2.3\\ 2.5 -2.7\\ 2.7 -2.2\\ 2.3 -2.6\\ 2.6 -2.1\\ 1.9 -2.1\\ 1.3 -1.2\\ 1.1 -1.1\\ 1.3 -1.0\\ 1.1 -1.2\\
1.2 -1.0\\ 1.0 -1.1\\ 1.3 -1.2\\ 1.1 -1.0\\ 1.2 -1.1\\ 1.0 -1.0\\ 1.3 -1.2\\ 1.1 -1.0\\ 1.2 -1.1\\ 1.0 -1.0\\
1.3 -1.1\\ 1.1 -1.0\\ 1.2 -1.2\\ 1.0 -1.0\\ 1.3 -1.1\\ 1.1 -1.0\\ 1.2 -1.2\\ 1.0 -1.0\\ 1.3 -1.1\\ 1.1 -1.0\\
1.2 -1.2\\ 1.3 -1.0\\ 1.1 -1.1\\ 1.2 -1.0\\ 1.0 -1.2\\ 1.3 -1.0\\ 1.1 -1.1\\ 1.2 -1.0\\ 1.0 -1.2\\ 1.3 -1.0\\
1.1 -1.1\\ 1.2 -1.0\\ 1.0 -1.2\\ 1.3 -1.0\\ 1.1 -1.1\\ 1.2 -1.0\\ 1.3 -1.2\\ 1.1 -1.0\\ 1.2 -1.2\\
1.2 -1.0\\ 1.0 -1.2\\ 1.3 -1.0\\ 1.1 -1.1\\ 1.2 -1.0\\ 1.0 -1.2\\ 1.3 -1.0\\ 1.1 -1.1\\ 1.2 -1.0\\ 1.3 -1.7\\
1.1 -1.9\\ 1.3 -1.7\\ 1.1 -2.2\\ 1.4 -1.8\\ 1.2 -2.4\\ 1.3 -2.0\\ 1.1 -2.5\\ 1.4 -1.8\\ 1.2 -2.3\\ 1.3 -2.0\\
1.1 -2.6\\ 1.4 -2.1\\ 1.2 -2.3\\ 1.3 -2.7\\ 1.1 -2.1\\ 1.4 -2.5\\ 1.2 -2.2\\ 1.3 -2.8\\ 1.1 -2.3\\ 1.4 -2.6\\
1.2 -2.1\\ 1.3 -2.5\\ 1.1 -2.2\\ 1.4 -2.4\\ 1.2 -1.9\\ 1.3 -2.2\\ 1.1 -1.8\\ 1.5 -1.3\\ 1.6 -1.4\\ 1.8 -1.2\\
1.5 -1.4\\ 1.7 -1.2\\ 1.6 -1.4\\ 1.8 -1.3\\ 1.5 -1.2\\ 1.7 -1.5\\ 1.6 -1.2\\ 1.9 -1.4\\ 1.6 -1.2\\ 1.7 -1.4\\
1.7 -1.5\\ 1.8 -1.3\\ 1.6 -1.2\\ 1.7 -1.4\\ 1.4 -1.2\\ 1.4 -1.3\\ 1.1 -1.0\\ 1.0 -1.1\\ 0.9 -0.9\\ 1.0 -1.0\\ 0.8 -0.8\\
0.9 -1.0\\ 0.8 -0.8\\ 0.9 -0.9\\ 0.8 -0.9\\ 1.0 -1.0\\ 0.8 -0.9\\ 1.0 -1.1\\ 1.1 -1.2\\ 1.2 -1.2\\
}\mBX
\pgfplotstableread[header=false,row sep=\\]{
1.6 -1.3\\ 2.0 -1.5\\ 2.2 -1.6\\ 1.5 -2.0\\ 1.9 -3.0\\ 3.9 -2.0\\ 1.6 -1.5\\ 1.9 -2.5\\ 1.4 -1.5\\ 1.7 -1.9\\
1.2 -2.9\\ 1.6 -1.6\\ 1.8 -1.4\\ 1.4 -1.8\\ 1.6 -1.5\\ 1.9 -2.2\\ 1.3 -1.4\\ 1.5 -1.7\\ 1.2 -1.3\\ 1.4 -1.6\\
1.1 -1.2\\ 1.3 -1.5\\ 1.0 -1.2\\ 1.2 -1.3\\ 1.0 -1.0\\ 1.2 -1.2\\ 1.5 -1.3\\ 1.8 -1.7\\ 1.6 -1.4\\ 2.1 -1.9\\
1.7 -1.5\\ 2.4 -1.8\\ 1.9 -2.1\\ 1.6 -1.6\\ 2.2 -1.9\\ 1.7 -2.4\\ 2.0 -1.7\\ 2.5 -2.0\\ 1.8 -1.6\\ 2.1 -2.3\\
1.9 -1.8\\ 3.5 -1.9\\ 2.0 -1.6\\ 2.3 -2.4\\ 1.8 -1.8\\ 2.4 -2.1\\ 2.0 -2.6\\ 1.9 -1.7\\ 2.5 -2.3\\ 2.1 -2.8\\
2.7 -2.2\\ 2.0 -2.9\\ 2.4 -2.4\\ 3.0 -3.2\\ 2.2 -2.6\\ 2.8 -3.4\\ 2.3 -2.8\\ 2.6 -3.7\\ 3.3 -3.0\\ 2.4 -2.6\\
2.9 -4.0\\ 2.3 -3.1\\ 3.2 -3.5\\ 2.5 -2.8\\ 2.8 -4.7\\ 2.2 -3.3\\ 3.1 -3.0\\ 4.0 -3.9\\ 2.6 -2.9\\ 3.4 -4.3\\
2.4 -3.5\\ 2.9 -2.9\\ 3.1 -4.0\\ 4.5 -3.3\\ 2.7 -3.0\\ 2.4 -3.5\\ 3.0 -3.0\\ 2.6 -2.6\\ 2.9 -3.9\\ 2.3 -3.1\\
2.7 -3.4\\ 2.2 -5.0\\ 2.8 -3.0\\ 3.2 -3.7\\ 2.4 -2.9\\ 2.6 -3.3\\ 2.1 -3.9\\ 2.9 -3.0\\ 2.3 -5.5\\ 2.7 -3.4\\
2.0 -2.9\\ 2.5 -3.6\\ 2.2 -3.1\\ 2.8 -2.7\\ 2.1 -3.3\\ 2.6 -3.0\\ 3.9 -3.9\\ 2.7 -4.1\\ 3.4 -3.2\\ 2.4 -3.5\\
2.9 -2.8\\ 2.2 -3.4\\ 3.0 -2.7\\ 2.3 -3.3\\ 2.6 -2.6\\ 2.0 -3.1\\ 2.4 -2.3\\ 1.5 -1.6\\ 1.2 -1.3\\ 1.5 -1.1\\
1.1 -1.5\\ 1.4 -1.0\\ 1.0 -1.3\\ 1.2 -1.6\\ 1.4 -1.0\\ 1.0 -1.2\\ 1.3 -1.4\\ 1.1 -1.0\\ 1.5 -1.3\\ 1.0 -1.1\\
1.2 -1.5\\ 1.4 -1.0\\ 1.1 -1.2\\ 1.3 -1.4\\ 1.0 -1.1\\ 1.5 -1.2\\ 1.2 -1.4\\ 1.1 -1.0\\ 1.3 -1.3\\ 1.7 -1.6\\
2.0 -1.8\\ 1.6 -2.2\\ 2.1 -1.7\\ 1.7 -2.0\\ 2.2 -1.6\\ 1.8 -2.4\\ 2.0 -1.8\\ 1.6 -2.1\\ 2.3 -1.7\\ 1.9 -2.5\\
2.7 -1.9\\ 1.8 -2.2\\ 2.1 -1.7\\ 1.7 -2.0\\ 2.2 -2.6\\ 1.9 -1.8\\ 1.7 -2.3\\ 2.3 -1.9\\ 1.8 -2.1\\ 2.0 -1.7\\
1.9 -2.4\\ 2.2 -2.0\\ 1.8 -2.2\\ 2.1 -1.8\\ 2.0 -2.3\\ 1.9 -2.0\\ 2.2 -1.8\\ 2.0 -2.1\\ 1.8 -2.3\\ 3.8 -4.0\\
3.5 -4.4\\ 4.0 -4.1\\ 3.7 -4.5\\ 3.9 -4.2\\ 3.6 -4.6\\ 4.0 -4.1\\ 3.8 -4.4\\ 3.5 -4.2\\ 3.9 -4.5\\ 3.7 -4.1\\
4.0 -4.6\\ 3.6 -4.3\\ 3.8 -4.1\\ 4.0 -4.5\\ 3.5 -4.2\\ 3.9 -4.6\\ 3.7 -4.3\\ 3.8 -4.1\\ 4.0 -4.4\\ 3.6 -4.6\\
3.9 -4.2\\ 3.7 -4.4\\ 3.5 -4.1\\ 3.9 -4.5\\ 3.6 -4.2\\ 4.0 -4.4\\ 3.8 -4.6\\ 3.7 -4.3\\ 2.5 -2.2\\ 2.8 -1.9\\
2.3 -2.4\\ 3.0 -2.0\\ 2.4 -2.2\\ 2.7 -1.8\\ 2.2 -2.3\\ 3.1 -2.1\\ 2.5 -1.7\\ 2.8 -2.5\\ 2.3 -1.9\\ 2.9 -2.2\\
2.4 -2.0\\ 2.6 -1.8\\ 3.3 -2.3\\ 2.5 -2.0\\ 2.2 -2.4\\ 2.8 -1.9\\ 2.4 -2.2\\ 3.0 -2.0\\ 2.5 -1.8\\ 2.2 -2.4\\
2.7 -2.0\\ 2.3 -2.5\\ 2.9 -2.1\\ 2.4 -1.9\\ 2.0 -2.2\\ 1.8 -1.6\\ 1.5 -1.3\\ 1.2 -1.6\\ 1.4 -1.2\\ 1.1 -1.4\\
1.3 -1.8\\ 1.0 -1.2\\ 1.1 -1.5\\ 1.4 -1.1\\ 1.0 -1.6\\ 1.2 -1.9\\ 1.5 -1.3\\ 2.0 -3.9\\ 2.3 -2.6\\
}\tBY
\pgfplotstableread[header=false,row sep=\\]{
1.0 -1.0\\ 1.2 -1.2\\ 1.0 -1.1\\ 1.3 -1.3\\ 1.1 -1.0\\ 1.2 -1.4\\ 1.0 -1.1\\ 1.3 -1.2\\ 1.0 -1.0\\ 1.2 -1.3\\
1.0 -1.1\\ 1.1 -1.3\\ 1.0 -1.0\\ 1.2 -1.2\\ 1.0 -1.1\\ 1.1 -1.3\\ 0.9 -1.0\\ 1.1 -1.2\\ 0.9 -1.0\\ 1.0 -1.1\\
0.8 -0.9\\ 0.9 -1.0\\ 0.8 -0.9\\ 0.9 -1.0\\ 0.8 -0.8\\ 0.9 -1.0\\ 1.1 -1.0\\ 1.3 -1.2\\ 1.1 -1.1\\ 1.4 -1.3\\
1.2 -1.1\\ 1.4 -1.3\\ 1.2 -1.2\\ 1.5 -1.4\\ 1.3 -1.2\\ 1.4 -1.5\\ 1.2 -1.3\\ 1.6 -1.5\\ 1.3 -1.2\\ 1.5 -1.6\\
1.3 -1.3\\ 1.7 -1.6\\ 1.4 -1.4\\ 1.6 -1.8\\ 1.4 -1.5\\ 1.8 -1.7\\ 1.5 -1.5\\ 1.7 -1.9\\ 1.5 -1.7\\ 1.9 -2.1\\
1.6 -1.8\\ 1.8 -2.2\\ 1.6 -1.9\\ 2.0 -2.3\\ 1.7 -2.0\\ 2.1 -2.4\\ 1.7 -2.0\\ 1.9 -2.5\\ 1.8 -2.1\\ 2.1 -2.4\\
1.7 -2.2\\ 2.0 -2.6\\ 1.8 -2.1\\ 2.2 -2.5\\ 1.7 -2.2\\ 2.0 -2.7\\ 1.8 -2.1\\ 2.2 -2.5\\ 1.7 -2.2\\ 2.0 -2.8\\
1.8 -2.1\\ 2.1 -2.5\\ 1.7 -2.2\\ 2.2 -2.6\\ 1.8 -2.1\\ 2.0 -2.5\\ 1.7 -2.2\\ 2.1 -2.7\\ 1.8 -2.1\\ 2.0 -2.5\\
1.7 -2.2\\ 2.2 -2.7\\ 1.8 -2.1\\ 2.0 -2.6\\ 1.7 -2.2\\ 2.1 -2.5\\ 1.8 -2.1\\ 2.0 -2.7\\ 1.7 -2.2\\ 2.1 -2.5\\
1.8 -2.1\\ 2.0 -2.6\\ 1.7 -2.2\\ 2.2 -2.5\\ 1.8 -2.1\\ 2.1 -2.6\\ 1.7 -2.2\\ 2.0 -2.5\\ 1.8 -2.1\\ 2.1 -2.4\\
1.7 -2.0\\ 1.9 -2.3\\ 1.7 -2.0\\ 1.8 -2.2\\ 1.6 -1.9\\ 1.5 -1.7\\ 1.1 -1.1\\ 0.9 -0.9\\ 1.0 -1.0\\ 0.8 -0.9\\
0.9 -1.0\\ 0.8 -0.8\\ 1.0 -1.0\\ 0.8 -0.9\\ 1.0 -0.9\\ 0.8 -1.0\\ 0.9 -0.8\\ 1.0 -1.0\\ 0.8 -0.9\\ 1.0 -0.8\\
0.9 -1.0\\ 0.8 -0.9\\ 1.0 -1.0\\ 1.2 -1.2\\ 1.5 -1.5\\ 1.3 -1.3\\ 1.6 -1.6\\ 1.3 -1.4\\ 1.7 -1.5\\ 1.4 -1.7\\
1.6 -1.4\\ 1.4 -1.7\\ 1.7 -1.5\\ 1.4 -1.6\\ 1.6 -1.4\\ 1.4 -1.8\\ 1.7 -1.5\\ 1.5 -1.6\\ 1.7 -1.4\\ 1.4 -1.7\\
1.7 -1.5\\ 1.4 -1.6\\ 1.6 -1.4\\ 1.5 -1.8\\ 1.7 -1.5\\ 1.4 -1.6\\ 1.7 -1.4\\ 1.5 -1.7\\ 1.6 -1.5\\ 1.5 -1.8\\
1.7 -1.5\\ 1.4 -1.7\\ 1.6 -1.4\\ 1.5 -1.6\\ 1.7 -1.5\\ 1.4 -1.7\\ 1.6 -1.5\\ 1.5 -1.6\\ 1.6 -1.5\\ 3.6 -4.1\\
3.8 -4.3\\ 3.5 -4.2\\ 3.9 -4.4\\ 3.6 -4.0\\ 3.8 -4.3\\ 3.7 -4.2\\ 3.5 -4.4\\ 3.9 -4.1\\ 3.6 -4.3\\ 3.8 -4.2\\
3.7 -4.0\\ 3.9 -4.3\\ 3.5 -4.4\\ 3.7 -4.2\\ 3.9 -4.0\\ 3.6 -4.3\\ 3.8 -4.2\\ 3.6 -4.4\\ 3.9 -4.0\\ 3.7 -4.3\\
3.5 -4.2\\ 3.8 -4.4\\ 3.7 -4.0\\ 3.6 -4.3\\ 3.8 -4.1\\ 3.6 -4.4\\ 3.9 -4.2\\ 3.6 -4.1\\ 2.1 -1.7\\ 2.4 -1.9\\
2.0 -1.6\\ 2.5 -1.9\\ 2.1 -1.7\\ 2.3 -1.6\\ 1.9 -1.9\\ 2.4 -1.7\\ 2.1 -1.6\\ 2.3 -2.0\\ 2.0 -1.7\\ 2.4 -1.8\\
2.1 -1.6\\ 2.3 -1.9\\ 2.5 -1.7\\ 2.1 -1.6\\ 2.0 -2.0\\ 2.4 -1.7\\ 2.1 -1.8\\ 2.3 -1.6\\ 2.1 -1.9\\ 2.0 -1.7\\
2.3 -1.6\\ 2.0 -2.0\\ 2.4 -1.8\\ 2.1 -1.6\\ 1.7 -1.8\\ 1.4 -1.3\\ 1.2 -1.1\\ 1.0 -1.2\\ 1.1 -1.0\\ 0.9 -1.2\\
1.1 -1.1\\ 0.9 -1.0\\ 1.0 -1.2\\ 1.1 -1.0\\ 0.9 -1.2\\ 1.0 -1.3\\ 1.2 -1.1\\ 1.3 -1.4\\ 1.4 -1.3\\
}\mBY
\pgfplotstableread[header=false,row sep=\\]{
1.2 -2.6\\ 2.4 -3.6\\ 1.6 -2.9\\ 2.7 -4.4\\ 1.1 -3.2\\ 1.9 -6.3\\ 0.9 -3.3\\ 1.6 -2.8\\ 2.6 -4.0\\ 1.2 -3.0\\
1.8 -3.5\\ 0.8 -2.7\\ 1.4 -5.0\\ 2.1 -3.1\\ 1.0 -2.6\\ 1.7 -3.3\\ 0.7 -2.5\\ 1.1 -2.9\\ 2.8 -2.4\\ 1.4 -2.6\\
0.6 -2.1\\ 1.0 -2.4\\ 0.4 -1.9\\ 0.6 -2.2\\ 0.4 -1.9\\ 0.8 -2.3\\ 1.2 -2.7\\ 1.9 -3.9\\ 2.4 -4.4\\ 3.2 -6.5\\
1.6 -4.6\\ 2.7 -3.9\\ 1.8 -5.0\\ 3.3 -4.3\\ 1.5 -4.8\\ 2.5 -4.0\\ 3.1 -5.2\\ 1.7 -4.2\\ 2.8 -4.7\\ 2.0 -3.9\\
3.5 -5.3\\ 1.8 -4.4\\ 2.6 -4.9\\ 3.0 -4.1\\ 1.9 -5.0\\ 3.2 -4.3\\ 2.3 -4.8\\ 3.7 -5.4\\ 2.2 -4.5\\ 3.0 -4.9\\
2.6 -4.4\\ 3.4 -5.2\\ 5.4 -5.6\\ 2.8 -4.8\\ 3.6 -5.9\\ 2.5 -4.7\\ 3.1 -5.4\\ 4.0 -6.0\\ 2.7 -5.0\\ 3.5 -5.7\\
2.4 -4.9\\ 3.9 -6.4\\ 2.9 -5.2\\ 4.3 -5.8\\ 2.6 -5.0\\ 3.3 -6.6\\ 2.8 -5.4\\ 3.8 -6.1\\ 2.4 -5.2\\ 3.1 -5.8\\
4.2 -6.3\\ 2.7 -5.0\\ 3.5 -6.7\\ 2.9 -5.3\\ 3.7 -5.9\\ 2.5 -5.1\\ 3.2 -7.7\\ 2.8 -5.6\\ 4.4 -6.2\\ 2.6 -5.0\\
3.4 -6.0\\ 6.8 -5.4\\ 3.1 -6.3\\ 4.2 -5.6\\ 2.7 -8.0\\ 3.6 -6.1\\ 4.5 -5.5\\ 2.9 -6.6\\ 3.3 -5.7\\ 4.1 -6.4\\
2.8 -5.3\\ 3.7 -6.0\\ 2.5 -5.6\\ 4.0 -6.3\\ 3.0 -5.4\\ 3.5 -5.9\\ 4.4 -6.2\\ 2.8 -5.1\\ 3.3 -5.8\\ 3.9 -6.7\\
3.0 -5.5\\ 3.6 -6.0\\ 2.9 -5.2\\ 3.7 -6.3\\ 3.2 -7.5\\ 4.5 -6.6\\ 2.8 -5.2\\ 0.4 -2.4\\ 0.2 -2.0\\ 0.4 -2.3\\
0.2 -1.9\\ 0.3 -5.2\\ 0.5 -2.2\\ 0.2 -2.0\\ 0.3 -2.4\\ 0.2 -1.9\\ 0.4 -2.2\\ 0.2 -2.0\\ 0.3 -2.5\\ 0.5 -1.9\\
0.2 -2.1\\ 0.3 -1.8\\ 0.2 -2.0\\ 0.4 -1.7\\ 0.2 -1.9\\ 0.3 -1.7\\ 0.2 -2.0\\ 0.4 -1.6\\ 0.2 -1.8\\ 0.3 -1.6\\
0.2 -1.9\\ 0.4 -1.7\\ 0.2 -1.5\\ 0.3 -1.8\\ 0.5 -1.6\\ 0.2 -1.7\\ 0.3 -1.9\\ 0.2 -1.5\\ 0.3 -1.8\\ 0.2 -1.6\\
0.4 -1.7\\ 0.2 -2.0\\ 0.3 -1.6\\ 0.2 -1.8\\ 0.4 -2.1\\ 0.3 -1.7\\ 0.2 -1.9\\ 0.4 -2.2\\ 0.3 -1.8\\ 0.2 -2.0\\
0.3 -1.7\\ 0.4 -2.1\\ 0.2 -1.8\\ 0.3 -2.3\\ 0.2 -1.9\\ 0.4 -2.0\\ 0.3 -1.8\\ 0.2 -2.2\\ 0.3 -1.9\\ 1.1 -3.2\\
0.8 -3.5\\ 1.2 -3.0\\ 0.9 -3.6\\ 1.4 -3.3\\ 0.8 -3.0\\ 1.1 -3.7\\ 0.9 -3.2\\ 1.3 -3.5\\ 0.7 -3.0\\ 1.0 -3.4\\
1.2 -3.1\\ 0.8 -3.8\\ 1.1 -3.3\\ 1.4 -3.0\\ 0.9 -3.6\\ 1.0 -3.2\\ 1.3 -3.4\\ 0.7 -3.0\\ 1.1 -3.5\\ 0.9 -3.1\\
1.2 -3.7\\ 0.8 -3.2\\ 1.0 -3.4\\ 1.2 -3.0\\ 0.8 -3.5\\ 1.1 -3.1\\ 0.9 -3.3\\ 1.3 -3.9\\ 0.8 -3.4\\ 1.1 -3.1\\
1.4 -3.6\\ 0.9 -3.2\\ 1.2 -3.8\\ 0.8 -3.1\\ 1.0 -3.5\\ 1.3 -3.2\\ 0.9 -3.7\\ 1.1 -3.3\\ 1.4 -3.0\\ 0.8 -3.6\\
1.0 -3.2\\ 1.3 -3.5\\ 0.9 -3.1\\ 1.1 -3.8\\ 1.2 -3.3\\ 0.8 -3.5\\ 1.1 -3.1\\ 1.0 -3.4\\ 1.2 -3.0\\ 0.9 -3.3\\
1.1 -3.6\\ 0.7 -3.1\\ 1.0 -3.2\\ 1.2 -2.9\\ 0.9 -3.3\\ 1.1 -3.0\\ 0.5 -2.5\\ 0.3 -2.7\\ 0.4 -2.3\\ 0.2 -2.9\\
0.4 -2.4\\ 0.3 -2.6\\ 0.5 -2.3\\ 0.3 -2.8\\ 0.4 -2.5\\ 0.8 -2.9\\ 1.1 -3.1\\ 2.0 -4.3\\ 1.2 -3.2\\
}\tBZ
\pgfplotstableread[header=false,row sep=\\]{
0.6 -2.0\\ 1.1 -2.5\\ 0.7 -2.1\\ 1.2 -2.8\\ 0.6 -2.2\\ 1.0 -3.0\\ 0.5 -2.1\\ 0.9 -2.4\\ 1.2 -2.7\\ 0.6 -2.2\\
0.9 -2.5\\ 0.4 -2.1\\ 0.8 -2.8\\ 1.0 -2.3\\ 0.5 -2.0\\ 0.8 -2.4\\ 0.4 -2.0\\ 0.6 -2.2\\ 0.9 -1.9\\ 0.6 -2.0\\
0.3 -1.7\\ 0.5 -1.9\\ 0.2 -1.6\\ 0.3 -1.8\\ 0.2 -1.6\\ 0.4 -1.8\\ 0.7 -2.2\\ 1.1 -2.8\\ 1.4 -3.1\\ 1.7 -3.6\\
1.0 -3.0\\ 1.5 -2.8\\ 1.1 -3.4\\ 1.8 -3.0\\ 1.0 -3.3\\ 1.4 -2.9\\ 1.7 -3.6\\ 1.1 -3.0\\ 1.6 -3.4\\ 1.2 -2.9\\
1.9 -3.7\\ 1.2 -3.1\\ 1.6 -3.5\\ 1.8 -3.0\\ 1.2 -3.6\\ 1.9 -3.1\\ 1.4 -3.5\\ 2.1 -3.8\\ 1.4 -3.2\\ 1.8 -3.6\\
1.6 -3.2\\ 2.1 -3.7\\ 2.4 -4.0\\ 1.7 -3.5\\ 2.2 -4.2\\ 1.6 -3.5\\ 1.9 -3.9\\ 2.4 -4.3\\ 1.7 -3.6\\ 2.1 -4.1\\
1.6 -3.6\\ 2.3 -4.5\\ 1.8 -3.8\\ 2.5 -4.2\\ 1.7 -3.7\\ 2.1 -4.6\\ 1.8 -3.9\\ 2.3 -4.3\\ 1.6 -3.8\\ 2.0 -4.2\\
2.5 -4.5\\ 1.8 -3.7\\ 2.2 -4.7\\ 1.8 -3.9\\ 2.3 -4.2\\ 1.7 -3.8\\ 2.0 -4.8\\ 1.8 -4.0\\ 2.6 -4.4\\ 1.7 -3.7\\
2.2 -4.3\\ 2.8 -4.0\\ 2.0 -4.5\\ 2.5 -4.1\\ 1.8 -4.9\\ 2.3 -4.3\\ 2.6 -4.0\\ 1.9 -4.6\\ 2.1 -4.1\\ 2.5 -4.5\\
1.8 -3.9\\ 2.3 -4.3\\ 1.7 -4.1\\ 2.5 -4.5\\ 1.9 -4.0\\ 2.2 -4.3\\ 2.6 -4.4\\ 1.8 -3.8\\ 2.1 -4.2\\ 2.4 -4.7\\
1.9 -4.0\\ 2.3 -4.3\\ 1.9 -3.9\\ 2.3 -4.5\\ 2.0 -4.2\\ 2.6 -4.6\\ 1.8 -3.9\\ 0.1 -1.8\\ 0.1 -1.6\\ 0.2 -1.8\\
0.1 -1.6\\ 0.2 -1.9\\ 0.2 -1.8\\ 0.1 -1.6\\ 0.2 -1.9\\ 0.1 -1.6\\ 0.2 -1.8\\ 0.1 -1.6\\ 0.2 -1.9\\ 0.2 -1.6\\
0.1 -1.7\\ 0.1 -1.5\\ 0.1 -1.6\\ 0.2 -1.4\\ 0.1 -1.6\\ 0.1 -1.4\\ 0.1 -1.6\\ 0.2 -1.4\\ 0.1 -1.5\\ 0.1 -1.4\\
0.1 -1.6\\ 0.2 -1.4\\ 0.1 -1.3\\ 0.1 -1.5\\ 0.2 -1.4\\ 0.1 -1.4\\ 0.1 -1.6\\ 0.1 -1.3\\ 0.1 -1.5\\ 0.1 -1.4\\
0.2 -1.4\\ 0.1 -1.6\\ 0.1 -1.4\\ 0.1 -1.5\\ 0.2 -1.7\\ 0.1 -1.4\\ 0.1 -1.6\\ 0.2 -1.7\\ 0.1 -1.5\\ 0.1 -1.6\\
0.1 -1.4\\ 0.2 -1.7\\ 0.1 -1.5\\ 0.1 -1.8\\ 0.1 -1.6\\ 0.2 -1.6\\ 0.1 -1.5\\ 0.1 -1.7\\ 0.1 -1.6\\ 0.6 -2.5\\
0.5 -2.7\\ 0.7 -2.4\\ 0.5 -2.8\\ 0.8 -2.6\\ 0.5 -2.4\\ 0.7 -2.9\\ 0.5 -2.6\\ 0.8 -2.8\\ 0.4 -2.4\\ 0.6 -2.7\\
0.7 -2.5\\ 0.5 -2.9\\ 0.7 -2.6\\ 0.8 -2.4\\ 0.5 -2.8\\ 0.6 -2.5\\ 0.8 -2.7\\ 0.4 -2.4\\ 0.7 -2.7\\ 0.5 -2.5\\
0.7 -2.9\\ 0.5 -2.5\\ 0.6 -2.7\\ 0.7 -2.4\\ 0.5 -2.7\\ 0.7 -2.5\\ 0.5 -2.6\\ 0.8 -3.0\\ 0.5 -2.6\\ 0.7 -2.5\\
0.8 -2.8\\ 0.5 -2.5\\ 0.7 -2.9\\ 0.5 -2.5\\ 0.6 -2.7\\ 0.8 -2.5\\ 0.5 -2.9\\ 0.7 -2.6\\ 0.8 -2.4\\ 0.5 -2.8\\
0.6 -2.5\\ 0.8 -2.7\\ 0.5 -2.5\\ 0.7 -2.9\\ 0.7 -2.6\\ 0.5 -2.7\\ 0.7 -2.5\\ 0.6 -2.6\\ 0.7 -2.4\\ 0.5 -2.6\\
0.7 -2.8\\ 0.4 -2.5\\ 0.6 -2.5\\ 0.7 -2.3\\ 0.5 -2.5\\ 0.6 -2.4\\ 0.2 -2.0\\ 0.1 -2.2\\ 0.2 -1.9\\ 0.1 -2.3\\
0.2 -2.0\\ 0.1 -2.1\\ 0.2 -1.9\\ 0.1 -2.2\\ 0.2 -2.0\\ 0.4 -2.3\\ 0.6 -2.4\\ 0.9 -2.7\\ 0.6 -2.4\\
}\mBZ
\pgfplotsset{
 base/.style={scale only axis, axis x line=bottom, axis y line=left,
  axis line style={-,black,line width=0.5pt}, tick align=inside,
  major tick length=3pt, tick style={black,line width=0.5pt},
  grid=major, grid style={grd,line width=0.6pt},
  xtick={0,10,...,90},
  tick label style={font=\fontsize{8.4}{10}\selectfont,text=txt,inner sep=0pt},
  label style={font=\fontsize{8.6}{10}\selectfont,text=txt},
  yticklabel shift=2pt, xticklabel shift=4.6pt, xmin=0},
 upper/.style={base, x axis line style={draw=none}, xtick style={draw=none}, xticklabels={}},
 lo/.style={base, xticklabels={0,10,20,30,40,50,60,70,80,90}, xlabel={Time [sec]},
  every axis x label/.style={at={(axis description cs:0.5,-0.214)},anchor=center}},
 yl/.style 2 args={every axis y label/.style={at={(axis description cs:#1,#2)},rotate=90,anchor=center}},
 sp/.style={ycomb,no marks,spk,line width=0.6pt},
 md/.style={ycomb,no marks,core,line width=0.65pt},
 cr/.style={draw=none,fill=core,no marks},
 rp/.style={const plot,no marks,rpm,line width=0.8pt},
}
\newcommand\sig[2]{%
\addplot[sp] table[x expr=\coordindex*0.4,y index=0]{#1};
\addplot[sp] table[x expr=\coordindex*0.4,y index=1]{#1};
\addplot[md] table[x expr=\coordindex*0.4+0.2,y index=0]{#2};
\addplot[md] table[x expr=\coordindex*0.4+0.2,y index=1]{#2};
}
\begin{document}
\begin{tikzpicture}
\path[use as bounding box] (0,0) rectangle (727.2pt,476.8pt);
% left column
\begin{axis}[upper,at={(33.5pt,376.2pt)},width=314pt,height=87.4pt,xmax=91.55,ymin=-11.3,ymax=8.41,
 ytick={-10,-5,0,5},yticklabels={-10,-5,0,5},ylabel={F\_X},yl={-0.04}{0.5}]
\sig{\tFX}{\mFX}
\addplot[cr] coordinates {(0,.6)(10.9,.7)(11,1.2)(31.8,1.3)(32,2.6)(42.7,2.6)(42.9,1.2)(52.5,1.2)(53,1.7)(63.4,1.8)(63.7,3)(74.8,3)(75.2,3.6)(86.3,3.6)(86.5,.5)(91.2,.4)(91.2,-.4)(86.5,-.5)(86.3,-4.2)(75.2,-4.2)(74.8,-3)(63.7,-3)(63.4,-2)(53,-1.9)(52.5,-1.2)(42.9,-1.2)(42.7,-3.2)(32,-3.2)(31.8,-1.4)(11,-1.4)(10.9,-.7)(0,-.7)};
\end{axis}
\begin{axis}[upper,at={(33.5pt,279.7pt)},width=314pt,height=86.7pt,xmax=91.55,ymin=-11.1,ymax=8.5,
 ytick={-10,-5,0,5},yticklabels={-10,-5,0,5},ylabel={F\_Y},yl={-0.037}{0.5}]
\sig{\tFY}{\mFY}
\addplot[cr] coordinates {(0,.8)(10,.8)(11,1.2)(20,1.4)(22,2.2)(42.5,2.2)(43,.9)(52.5,.9)(53.5,1.5)(63.3,1.7)(63.7,3.2)(75,3.2)(76,2.6)(86,2.4)(87,1.2)(91.2,1)(91.2,-1.2)(87,-1.2)(86,-2.6)(76,-2.8)(75,-3.8)(63.7,-3.8)(63.3,-2)(53.5,-1.9)(52.5,-1)(43,-1)(42.5,-2.6)(22,-2.6)(20,-1.6)(11,-1.4)(10,-1)(0,-1)};
\end{axis}
\begin{axis}[upper,at={(33.5pt,182.8pt)},width=314pt,height=86.6pt,xmax=91.55,ymin=-13.8,ymax=13.1,
 ytick={-10,-5,0,5,10},yticklabels={-10,-5,0,5,10},ylabel={F\_Z},yl={-0.039}{0.5}]
\sig{\tFZ}{\mFZ}
\addplot[cr] coordinates {(0,1.1)(10,1.2)(11,1.6)(63.3,1.8)(63.7,5)(86.3,5)(86.5,.9)(91.2,.9)(91.2,-.7)(86.5,-.7)(86.3,-5.4)(63.7,-5.4)(63.3,-1.4)(11,-1.7)(10,-.8)(0,-.8)};
\end{axis}
\begin{axis}[lo,at={(33.5pt,85.8pt)},width=314pt,height=86.8pt,xmax=91.55,ymin=33,ymax=6386,
 ytick={2000,4000,6000},yticklabels={2000,4000,6000},ylabel={RPM},yl={-0.075}{0.478}]
\addplot[rp] coordinates {(0,2000)(10.95,2800)(21.5,3300)(31.9,3900)(42.85,5000)(53.2,5500)(63.6,6200)(75.1,6380)(86.4,2600)(91.2,0)(91.6,0)};
\end{axis}
% right column
\begin{axis}[upper,at={(397.2pt,376.2pt)},width=318pt,height=87.9pt,xmax=91.6,ymin=-4,ymax=4.47,
 ytick={-4,-2,0,2,4},yticklabels={,-2,0,2,4},ylabel={B\_X},yl={-0.0428}{0.5}]
\sig{\tBX}{\mBX}
\addplot[cr] coordinates {(0,.6)(10,.6)(11,.8)(31,.7)(31.8,1.4)(42.5,1.4)(43,.7)(75,.7)(75.3,.9)(86,.9)(87,.5)(91.2,.6)(91.2,-.5)(87,-.4)(86,-.7)(75.3,-.7)(75,-1.1)(63.7,-1.1)(63.4,-.6)(43,-.6)(42.5,-1.4)(31.8,-1.4)(31,-.6)(0,-.6)};
\end{axis}
\begin{axis}[upper,at={(397.2pt,278.8pt)},width=318pt,height=87.6pt,xmax=91.6,ymin=-5.5,ymax=4.64,
 ytick={-4,-2,0,2,4},yticklabels={-4,-2,0,2,4},ylabel={B\_Y},yl={-0.0428}{0.5}]
\sig{\tBY}{\mBY}
\addplot[cr] coordinates {(0,.6)(10,.6)(12,.8)(20,1)(42,1)(43,.5)(52.5,.5)(53.5,.9)(63.3,.9)(63.7,2.6)(74.9,2.6)(75.3,1.2)(85.5,1.2)(86.8,.6)(91.2,.6)(91.2,-.6)(86.8,-.6)(85.5,-1)(75.3,-1)(74.9,-2.8)(63.7,-2.8)(63.3,-1)(53.5,-1)(52.5,-.5)(43,-.5)(42,-1.3)(20,-1.1)(12,-.8)(10,-.6)(0,-.7)};
\end{axis}
\begin{axis}[upper,at={(397.2pt,181.8pt)},width=318pt,height=87.2pt,xmax=91.6,ymin=-8.06,ymax=7.1,
 ytick={-5,0,5},yticklabels={-5,0,5},ylabel={B\_Z},yl={-0.0428}{0.5}]
\sig{\tBZ}{\mBZ}
\addplot[cr] coordinates {(0,.1)(10,0)(11,.6)(20,.9)(42.6,.9)(42.9,0)(63.3,0)(63.6,.2)(86.3,.2)(87,0)(91.2,.2)(91.2,-1.6)(87,-1.6)(86.3,-2.2)(63.6,-2.2)(63.3,-1.2)(42.9,-1.2)(42.6,-3)(20,-3)(11,-2.2)(10,-1.4)(0,-1.7)};
\end{axis}
\begin{axis}[lo,at={(397.2pt,84pt)},width=318pt,height=87.2pt,xmax=91.6,ymin=33,ymax=6400,
 ytick={2000,4000,6000},yticklabels={2000,4000,6000},ylabel={RPM},yl={-0.0767}{0.513}]
\addplot[rp] coordinates {(0,2000)(10.95,2800)(21.5,3300)(31.9,3900)(42.85,5000)(53.2,5500)(63.6,6200)(75.1,6380)(86.4,2600)(91.2,0)(91.6,0)};
\end{axis}
\node[font=\fontsize{7.4}{9}\selectfont,text=txt] at (341.8pt,67.2pt) {sec};
\node[font=\fontsize{7.4}{9}\selectfont,text=txt] at (709.1pt,65.4pt) {sec};
\node[font=\capfont\fontsize{17}{20}\selectfont,text=black] at (176.8pt,14.8pt) {(\textbf{a})};
\node[font=\capfont\fontsize{17}{20}\selectfont,text=black] at (543pt,14.8pt) {(\textbf{b})};
\end{tikzpicture}
\end{document}
